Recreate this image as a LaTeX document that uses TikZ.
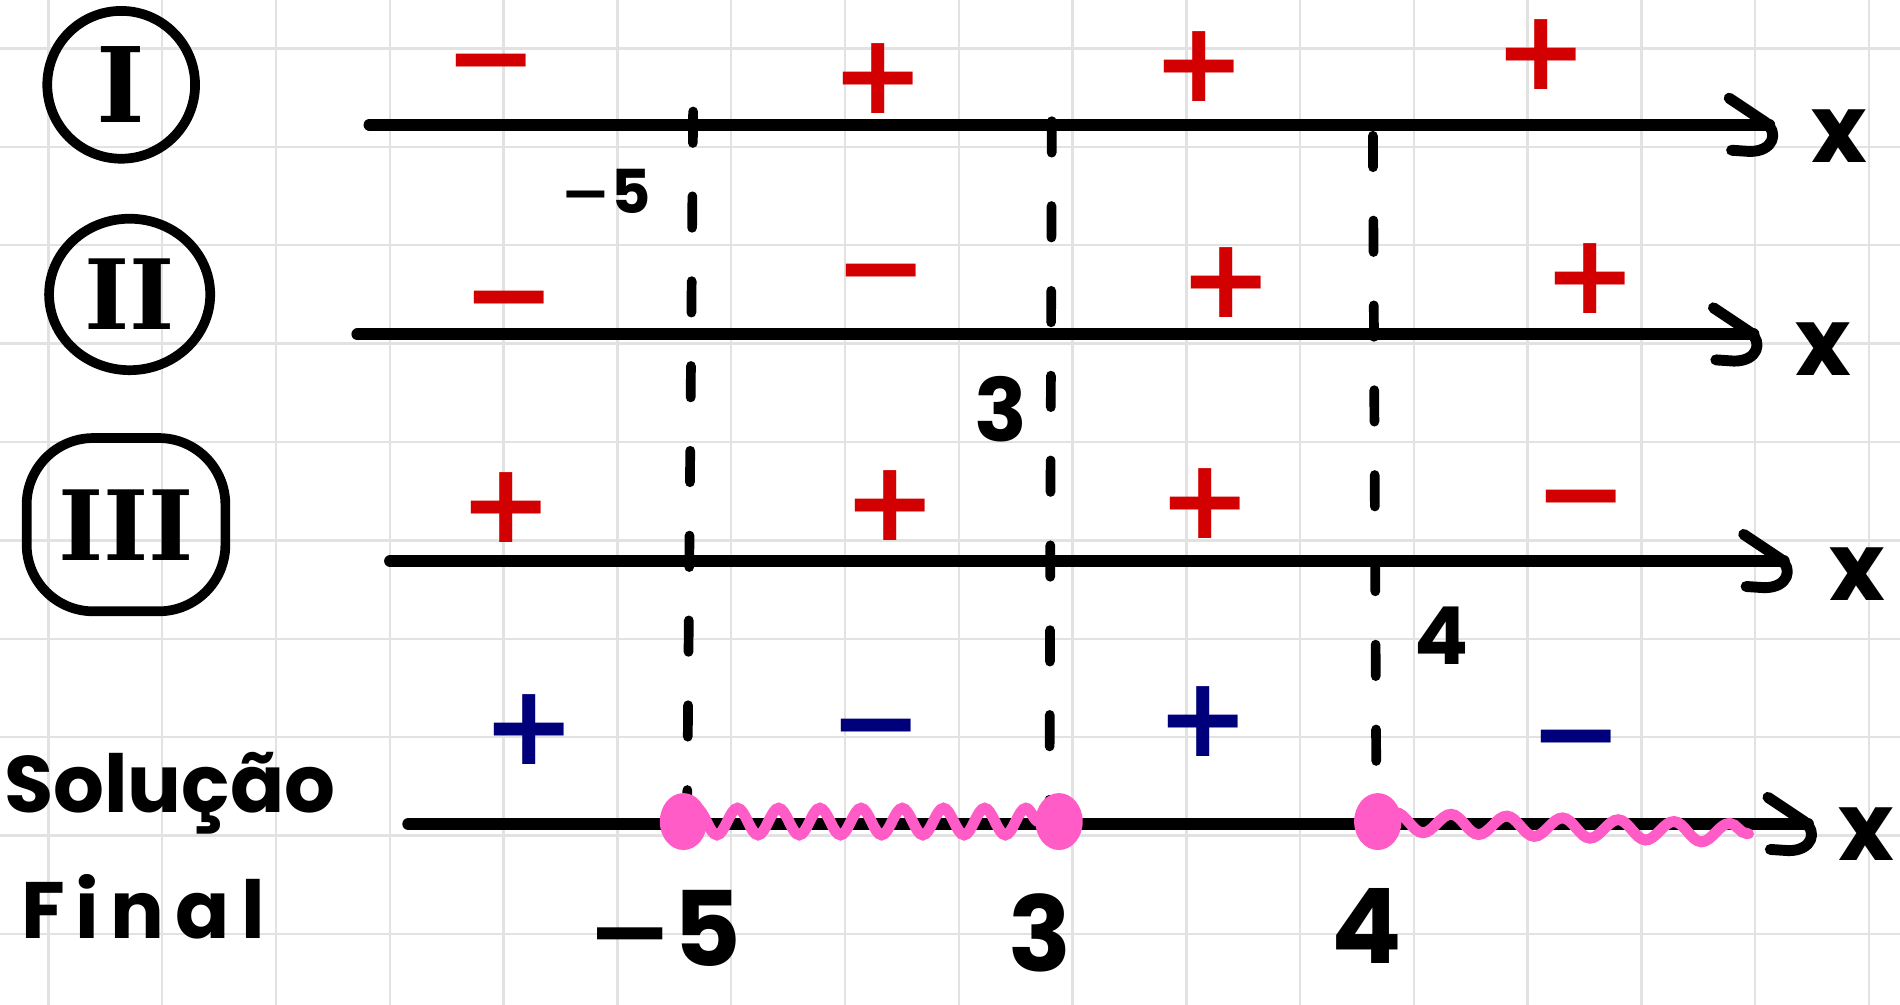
\documentclass[tikz,border=0pt]{standalone}
\usepackage{fontspec}
\newfontfamily\hand{Poppins}
\newfontfamily\signfont{DejaVu Sans}
\newfontfamily\romfont{DejaVu Serif}
\usetikzlibrary{decorations.pathmorphing,shapes.geometric}
\definecolor{sred}{HTML}{D20000}
\definecolor{snavy}{HTML}{00007A}
\definecolor{spink}{HTML}{FF5CC8}
\definecolor{gridc}{HTML}{E2E2E2}
\newcommand\handtip[1]{%
  \draw[tipline] ([shift={(-33,-22)}]#1) -- ([shift={(-3,-2)}]#1)
    .. controls ([shift={(8,6)}]#1) and ([shift={(4,22)}]#1) .. ([shift={(-16,22)}]#1)
    -- ([shift={(-31,21)}]#1);}
\begin{document}
\begin{tikzpicture}[x=1pt,y=-1pt,
  gridline/.style={gridc,line width=2pt},
  axisline/.style={line width=10pt,line cap=round},
  tipline/.style={line width=9pt,line cap=round,line join=round},
  vguide/.style={line width=8pt,line cap=round,dash pattern=on 26pt off 44pt},
  sgn/.style={inner sep=0pt,text height=68pt,text depth=0pt,font=\signfont\bfseries\fontsize{92}{92}\selectfont},
  rsgn/.style={sgn,text=sred},
  bsgn/.style={sgn,text=snavy},
  xlab/.style={inner sep=0pt,font=\hand\bfseries\fontsize{78}{78}\selectfont},
  numlab/.style={inner sep=0pt,font=\hand\bfseries\fontsize{#1}{#1}\selectfont},
  ring/.style={draw,line width=8pt,inner sep=0pt,font=\romfont\bfseries\fontsize{82}{82}\selectfont},
  pdot/.style={ellipse,fill=spink,inner sep=0pt,minimum width=39pt,minimum height=47pt},
  wave/.style={spink,line width=9pt,line cap=round,decorate,decoration={snake,segment length=34pt,amplitude=11pt}}
]
\fill[white] (0,0) rectangle (1568,829);
\useasboundingbox (0,0) rectangle (1568,829);
\foreach \k in {0,...,16} \draw[gridline] ({40+93.9*\k},0) -- ({40+93.9*\k},829);
\foreach \k in {0,...,9} \draw[gridline] (0,{40+81.2*\k}) -- (1568,{40+81.2*\k});

% vertical guides
\coordinate (v1t) at (572,92);  \coordinate (v1b) at (567,680);
\coordinate (v2t) at (868,100); \coordinate (v2b) at (866,680);
\coordinate (v3t) at (1133,112); \coordinate (v3b) at (1136,680);
\draw[vguide] (v1t) -- (v1b);
\draw[vguide] (v2t) -- (v2b);
\draw[vguide] (v3t) -- (v3b);

% axes
\coordinate (a1s) at (305,103); \coordinate (a1e) at (1460,103);
\coordinate (a2s) at (295,276); \coordinate (a2e) at (1447,276);
\coordinate (a3s) at (322,463); \coordinate (a3e) at (1472,463);
\coordinate (a4s) at (337,680); \coordinate (a4e) at (1492,680);
\draw[axisline] (a1s) -- (a1e); \handtip{a1e}
\draw[axisline] (a2s) -- (a2e); \handtip{a2e}
\draw[axisline] (a3s) -- (a3e); \handtip{a3e}
\draw[axisline] (a4s) -- (a4e); \handtip{a4e}
\node[xlab] (x1) at (1518,112) {x};
\node[xlab] (x2) at (1505,288) {x};
\node[xlab] (x3) at (1533,474) {x};
\node[xlab] (x4) at (1540,688) {x};

% roman numerals
\node[ring,circle,minimum size=122pt,font=\romfont\bfseries\fontsize{86}{86}\selectfont] (c1) at (100,70) {I};
\node[ring,ellipse,minimum width=133pt,minimum height=125pt,font=\romfont\bfseries\fontsize{80}{80}\selectfont] (c2) at (107,243) {II};
\node[ring,rectangle,rounded corners=55pt,minimum width=164pt,minimum height=143pt,font=\romfont\bfseries\fontsize{80}{80}\selectfont] (c3) at (104,433) {III};

% signs row I
\node[rsgn] (s11) at (405,45) {−};
\node[rsgn] (s12) at (725,60) {+};
\node[rsgn] (s13) at (990,50) {+};
\node[rsgn] (s14) at (1272,40) {+};
% row II
\node[rsgn] (s21) at (420,240) {−};
\node[rsgn] (s22) at (727,218) {−};
\node[rsgn] (s23) at (1012,228) {+};
\node[rsgn] (s24) at (1312,225) {+};
% row III
\node[rsgn] (s31) at (418,414) {+};
\node[rsgn] (s32) at (735,412) {+};
\node[rsgn] (s33) at (995,410) {+};
\node[rsgn] (s34) at (1305,405) {−};
% final row
\node[bsgn] (s41) at (437,597) {+};
\node[bsgn] (s42) at (723,594) {−};
\node[bsgn] (s43) at (993,590) {+};
\node[bsgn] (s44) at (1301,603) {−};

% small labels near guides
\node[numlab=50] (l1) at (500,158) {{\signfont −}5};
\node[numlab=72] (l2) at (826,338) {3};
\node[numlab=66] (l3) at (1190,525) {4};

% final labels
\node[numlab=66] (sol) at (140,655) {Solução};
\node[numlab=66] (fin) at (118,748) {\addfontfeature{LetterSpace=14}Final};
\node[numlab=86] (b1) at (548,766) {{\signfont −}5};
\node[numlab=86] (b2) at (858,770) {3};
\node[numlab=86] (b3) at (1128,764) {4};

% pink solution
\node[pdot] (p1) at (564,678) {};
\node[pdot] (p2) at (874,678) {};
\node[pdot] (p3) at (1137,678) {};
\coordinate (pend) at (1443,688);
\draw[wave] (p1.center) -- (p2.center);
\draw[wave,decoration={snake,segment length=46pt,amplitude=8pt}] (p3.center) -- (pend);
\end{tikzpicture}
\end{document}
